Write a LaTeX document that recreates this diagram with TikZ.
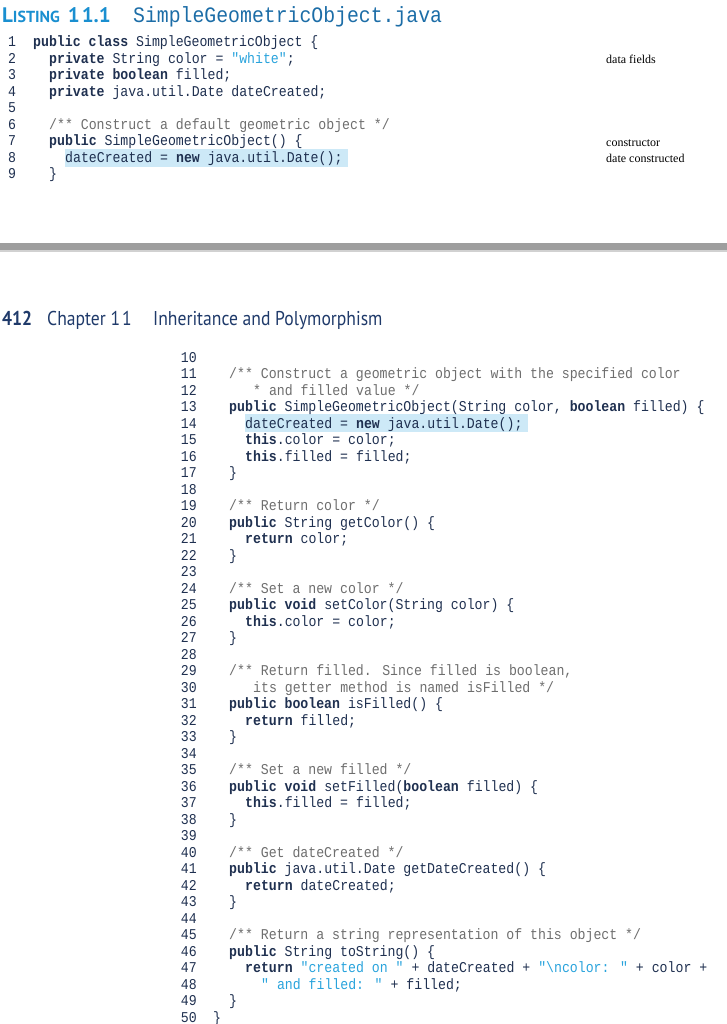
\documentclass[tikz,border=0pt]{standalone}
\usepackage{fontspec}
\setmainfont{Liberation Serif}
\newfontfamily\codef[FakeStretch=0.88]{Liberation Mono}
\newfontfamily\titlef[FakeStretch=0.9]{Liberation Mono}
\newfontfamily\headf[FakeStretch=0.88]{PT Sans}
\newfontfamily\lstf{PT Sans}
\definecolor{codec}{HTML}{1F3050}
\definecolor{commc}{HTML}{6E6E6E}
\definecolor{strc}{HTML}{29A3DC}
\definecolor{hlc}{HTML}{CDE9F7}
\definecolor{headc}{HTML}{1A8FD0}
\definecolor{chapc}{HTML}{1F3A6A}
\newcommand\kw[1]{\textbf{#1}}
\newcommand\cm[1]{\textcolor{commc}{#1}}
\newcommand\stt[1]{\textcolor{strc}{#1}}
\begin{document}
\begin{tikzpicture}[x=1pt,y=-1pt,
  code/.style={anchor=base west,inner sep=0pt,font=\codef\fontsize{15}{16}\selectfont,text=codec},
  lnum/.style={anchor=base east,inner sep=0pt,font=\codef\fontsize{15}{16}\selectfont,text=codec},
  note/.style={anchor=base west,inner sep=0pt,font=\fontsize{12}{14}\selectfont,text=black}]
\useasboundingbox (0,0) rectangle (727,1024);
% header
\node[anchor=base west,inner sep=0pt,text=headc,font=\lstf\bfseries\fontsize{21}{22}\selectfont] (lh) at (2,23) {L{\fontsize{16}{18}\selectfont ISTING}\hspace{8pt}1\hspace{2pt}1.1};
\node[anchor=base west,inner sep=0pt,text=headc!60!chapc,font=\titlef\fontsize{22}{24}\selectfont] (lt) at (133,23) {SimpleGeometricObject.java};
% highlights
\fill[hlc] (65,149) rectangle (348,167);
\fill[hlc] (245,414) rectangle (528,432);
% top code
\foreach \n/\y in {1/47,2/63.5,3/80,4/96.5,5/113,6/129.5,7/146,8/162.5,9/179}
  \node[code,anchor=base west] (t\n) at (8,\y) {\n};
\node[code] (c1) at (33,47) {\kw{public class} SimpleGeometricObject \{};
\node[code] (c2) at (49,63.5) {\kw{private} String color = \stt{"white"};};
\node[code] (c3) at (49,80) {\kw{private boolean} filled;};
\node[code] (c4) at (49,96.5) {\kw{private} java.util.Date dateCreated;};
\node[code] (c6) at (49,129.5) {\cm{/** Construct a default geometric object */}};
\node[code] (c7) at (49,146) {\kw{public} SimpleGeometricObject() \{};
\node[code] (c8) at (65,162.5) {dateCreated = \kw{new} java.util.Date();};
\node[code] (c9) at (49,179) {\}};
\node[note] (n1) at (606,64) {data fields};
\node[note] (n2) at (606,147) {constructor};
\node[note] (n3) at (606,163) {date constructed};
% bar
\fill[black!38] (0,243) rectangle (727,250);
\fill[black!18] (0,250) rectangle (727,252);
% chapter header
\node[anchor=base west,inner sep=0pt,text=chapc,font=\headf\bfseries\fontsize{20}{22}\selectfont] (pg) at (2,325) {412};
\node[anchor=base west,inner sep=0pt,text=chapc,font=\headf\fontsize{20}{22}\selectfont] (ch) at (47,325) {Chapter 1\hspace{2pt}1};
\node[anchor=base west,inner sep=0pt,text=chapc,font=\headf\fontsize{20}{22}\selectfont] (ct) at (153,325) {Inheritance and Polymorphism};
% bottom line numbers
\foreach \n in {10,...,50}
  \node[lnum] (b\n) at (197,{362+(\n-10)*16.5}) {\n};
\newcommand\bl[3]{\node[code] (d#1) at (#2,{362+(#1-10)*16.5}) {#3};}
\bl{11}{229}{\cm{/** Construct a geometric object with the specified color}}
\bl{12}{253}{\cm{* and filled value */}}
\bl{13}{229}{\kw{public} SimpleGeometricObject(String color, \kw{boolean} filled) \{}
\bl{14}{245}{dateCreated = \kw{new} java.util.Date();}
\bl{15}{245}{\kw{this}.color = color;}
\bl{16}{245}{\kw{this}.filled = filled;}
\bl{17}{229}{\}}
\bl{19}{229}{\cm{/** Return color */}}
\bl{20}{229}{\kw{public} String getColor() \{}
\bl{21}{245}{\kw{return} color;}
\bl{22}{229}{\}}
\bl{24}{229}{\cm{/** Set a new color */}}
\bl{25}{229}{\kw{public void} setColor(String color) \{}
\bl{26}{245}{\kw{this}.color = color;}
\bl{27}{229}{\}}
\bl{29}{229}{\cm{/** Return filled. Since filled is boolean,}}
\bl{30}{253}{\cm{its getter method is named isFilled */}}
\bl{31}{229}{\kw{public boolean} isFilled() \{}
\bl{32}{245}{\kw{return} filled;}
\bl{33}{229}{\}}
\bl{35}{229}{\cm{/** Set a new filled */}}
\bl{36}{229}{\kw{public void} setFilled(\kw{boolean} filled) \{}
\bl{37}{245}{\kw{this}.filled = filled;}
\bl{38}{229}{\}}
\bl{40}{229}{\cm{/** Get dateCreated */}}
\bl{41}{229}{\kw{public} java.util.Date getDateCreated() \{}
\bl{42}{245}{\kw{return} dateCreated;}
\bl{43}{229}{\}}
\bl{45}{229}{\cm{/** Return a string representation of this object */}}
\bl{46}{229}{\kw{public} String toString() \{}
\bl{47}{245}{\kw{return} \stt{"created on "} + dateCreated + \stt{"\textbackslash ncolor: "} + color +}
\bl{48}{261}{\stt{" and filled: "} + filled;}
\bl{49}{229}{\}}
\bl{50}{213}{\}}
\end{tikzpicture}
\end{document}
